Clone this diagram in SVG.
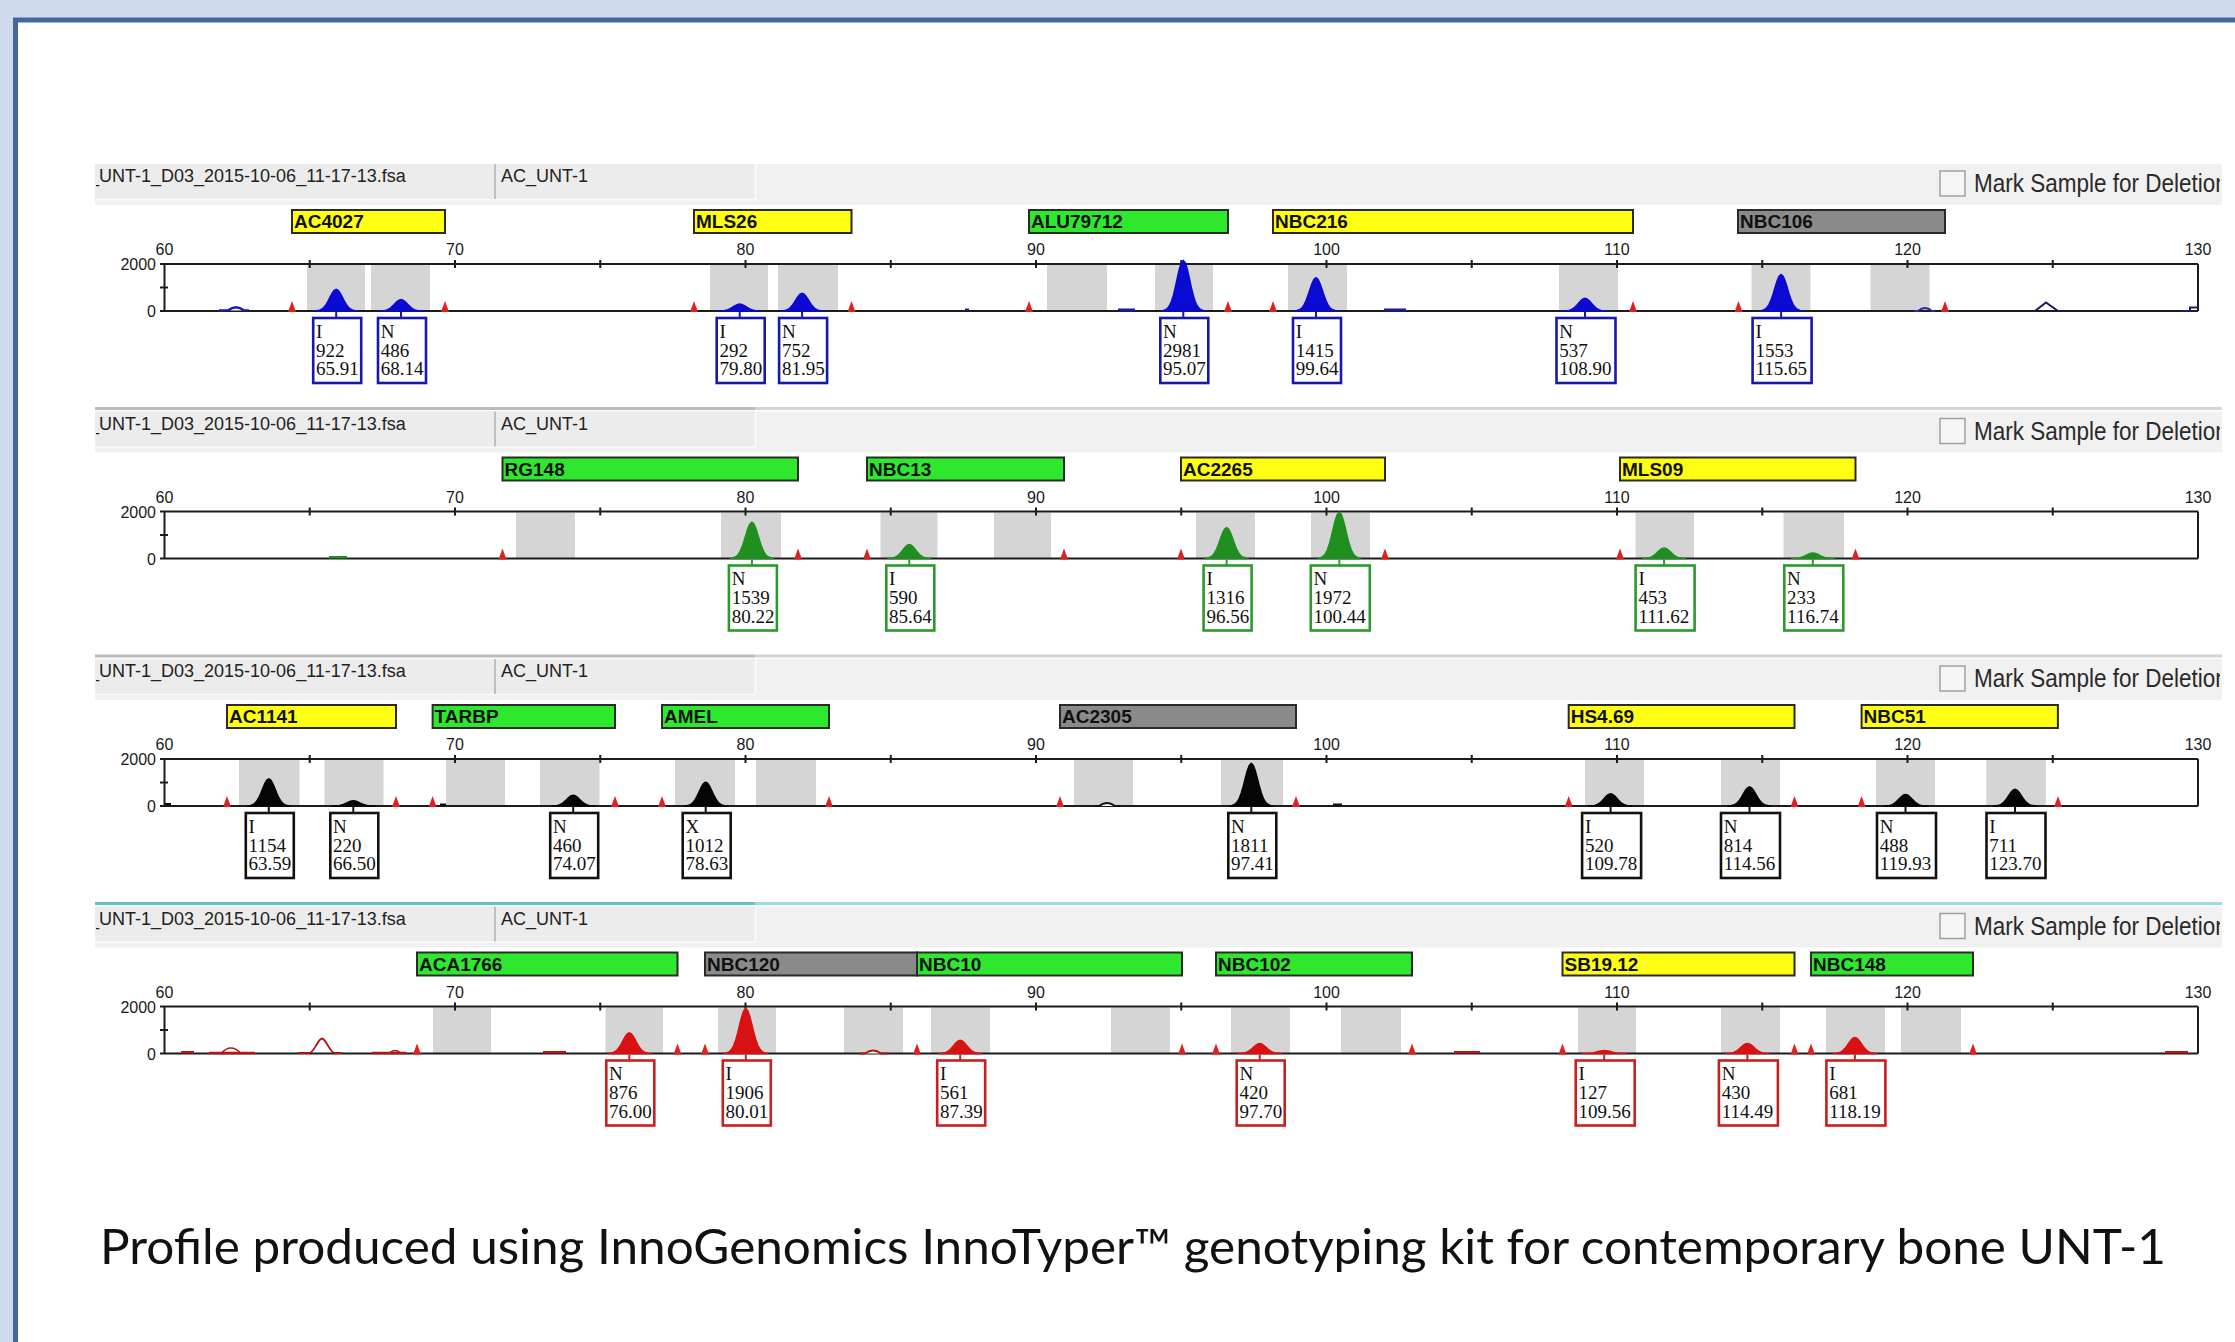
<svg xmlns="http://www.w3.org/2000/svg" xmlns:xlink="http://www.w3.org/1999/xlink" width="2235" height="1342" viewBox="0 0 2235 1342">
<style>
.ht{font-family:'Liberation Sans',Arial,sans-serif;font-size:18px;fill:#222}
.mk{font-family:'Liberation Sans',Arial,sans-serif;font-size:25px;fill:#2a2a2a}
.an{font-family:'Liberation Sans',Arial,sans-serif;font-size:16px;fill:#1a1a1a;text-anchor:middle}
.ay{font-family:'Liberation Sans',Arial,sans-serif;font-size:16px;fill:#1a1a1a;text-anchor:end}
.lb{stroke:#2a2a2a;stroke-width:2}
.ly{fill:#ffff14}.lg{fill:#2ee82e}.lgr{fill:#8a8a8a}
.lt{font-family:'Liberation Sans',Arial,sans-serif;font-weight:bold;font-size:19px;fill:#111}
.bin{fill:#d5d5d5}
.ax{stroke:#1c1c1c;stroke-width:2;fill:none}
.bx{fill:#fff;stroke-width:2.6}
.bt{font-family:'Liberation Serif','Times New Roman',serif;font-size:19px;fill:#111}
.sb{stroke:#1818aa}.sg{stroke:#2a9a2a}.sk{stroke:#111}.sr{stroke:#c82020}
.cn{stroke-width:2}
.pb{fill:#0a0ad2;stroke:#0a0ad2}.pg{fill:#1f8f1f;stroke:#1f8f1f}.pk{fill:#050505;stroke:#050505}.pr{fill:#d81212;stroke:#d81212}
.cap{font-family:Lato,'Open Sans','Liberation Sans',sans-serif;font-size:49px;fill:#111}
</style>
<defs>
<path id="pk" vector-effect="non-scaling-stroke" stroke-width="1.5" d="M-22,0 L-19,-0.014 L-16,-0.048 L-14,-0.098 L-12,-0.182 L-10,-0.306 L-8,-0.469 L-6,-0.653 L-4,-0.827 L-2,-0.954 L0,-1 L2,-0.954 L4,-0.827 L6,-0.653 L8,-0.469 L10,-0.306 L12,-0.182 L14,-0.098 L16,-0.048 L19,-0.014 L22,0 Z"/>
<path id="tri" d="M-4,1 L0,-10 L4,1 Z" fill="#e02020"/>
<path id="axes" class="ax" d="M160,264H2198M160,311H2198M164.5,264V311M2198,264V311M160,287.5H168M309.75,260V268M455,260V268M600.25,260V268M745.5,260V268M890.75,260V268M1036,260V268M1181.25,260V268M1326.5,260V268M1471.75,260V268M1617,260V268M1762.25,260V268M1907.5,260V268M2052.75,260V268"/>
<clipPath id="cpH" clipPathUnits="userSpaceOnUse"><rect x="96" y="-500" width="2124" height="2500"/></clipPath>
</defs>
<rect x="0" y="0" width="2235" height="1342" fill="#d0dcee"/>
<rect x="15.5" y="20" width="2300" height="1400" fill="#fff" stroke="#44679c" stroke-width="5"/>

<!-- PANEL 1 -->
<g id="panel1">
<rect x="95" y="164" width="2127" height="41" fill="#f1f1f1"/>
<rect x="95" y="164" width="660" height="35" fill="#ececec"/>
<path d="M95,199.5H755.5V164" stroke="#fbfbfb" stroke-width="1.5" fill="none"/>
<path d="M495,164V199" stroke="#b0b0b0" stroke-width="1.5"/>
<g clip-path="url(#cpH)">
<text class="ht" x="89" y="182">_UNT-1_D03_2015-10-06_11-17-13.fsa</text>
<text class="ht" x="501" y="182">AC_UNT-1</text>
<rect x="1940" y="171" width="25" height="25" fill="#f5f5f5" stroke="#a0a0a0" stroke-width="1.5"/>
<text class="mk" transform="translate(1974,192) scale(0.9,1)">Mark Sample for Deletion</text>
</g>
<g id="p1-loci">
<rect class="lb ly" x="292" y="210" width="153" height="23"/><text class="lt" x="294" y="228">AC4027</text>
<rect class="lb ly" x="694" y="210" width="157.5" height="23"/><text class="lt" x="696" y="228">MLS26</text>
<rect class="lb lg" x="1029" y="210" width="199" height="23"/><text class="lt" x="1031" y="228">ALU79712</text>
<rect class="lb ly" x="1273" y="210" width="360" height="23"/><text class="lt" x="1275" y="228">NBC216</text>
<rect class="lb lgr" x="1738" y="210" width="207" height="23"/><text class="lt" x="1740" y="228">NBC106</text>
</g>
<g>
<rect class="bin" x="307" y="265" width="58" height="46"/><rect class="bin" x="371" y="265" width="59" height="46"/>
<rect class="bin" x="710" y="265" width="58" height="46"/><rect class="bin" x="778" y="265" width="60" height="46"/>
<rect class="bin" x="1047" y="265" width="60" height="46"/><rect class="bin" x="1155" y="265" width="58" height="46"/>
<rect class="bin" x="1288" y="265" width="59" height="46"/><rect class="bin" x="1559" y="265" width="59" height="46"/>
<rect class="bin" x="1751.5" y="265" width="59" height="46"/><rect class="bin" x="1870.5" y="265" width="59" height="46"/>
</g>
<use href="#axes"/>
<text class="an" x="164.5" y="255">60</text><text class="an" x="455" y="255">70</text><text class="an" x="745.5" y="255">80</text><text class="an" x="1036" y="255">90</text><text class="an" x="1326.5" y="255">100</text><text class="an" x="1617" y="255">110</text><text class="an" x="1907.5" y="255">120</text><text class="an" x="2198" y="255">130</text>
<text class="ay" x="156" y="270">2000</text><text class="ay" x="156" y="317">0</text>
<g>
<path d="M219,310.5H228Q236,304 244,310.5H249" fill="#fff" stroke="#1a1aa0" stroke-width="2.5"/>
<rect x="965" y="308.5" width="4" height="2.5" fill="#1a1a80"/>
<rect x="1118" y="308.5" width="17" height="3" fill="#1a1aa0"/>
<rect x="1384" y="308.5" width="22" height="3" fill="#1a1aa0"/>
<path d="M1914,311H1918Q1925,305 1932,311H1935" fill="none" stroke="#2a2aa0" stroke-width="2"/>
<path d="M2031,311H2035L2046,302.5L2058,311H2064" fill="none" stroke="#1a1a5a" stroke-width="2"/>
<path d="M2181,311H2190V307.5H2198" fill="none" stroke="#1a1a80" stroke-width="2"/>
</g>
<g class="pb">
<use href="#pk" transform="translate(336.2,311) scale(1,21.7)"/>
<use href="#pk" transform="translate(401,311) scale(1,11.4)"/>
<use href="#pk" transform="translate(739.7,311) scale(1,6.9)"/>
<use href="#pk" transform="translate(802.1,311) scale(1,17.7)"/>
<use href="#pk" transform="translate(1183.3,311) scale(1,50.5)"/>
<use href="#pk" transform="translate(1316,311) scale(1,33.3)"/>
<use href="#pk" transform="translate(1585,311) scale(1,12.6)"/>
<use href="#pk" transform="translate(1781.1,311) scale(1,36.5)"/>
</g>
<g>
<use href="#tri" x="292" y="311"/><use href="#tri" x="445" y="311"/><use href="#tri" x="694" y="311"/><use href="#tri" x="851.5" y="311"/><use href="#tri" x="1029" y="311"/><use href="#tri" x="1228" y="311"/><use href="#tri" x="1273" y="311"/><use href="#tri" x="1633" y="311"/><use href="#tri" x="1738.5" y="311"/><use href="#tri" x="1945" y="311"/>
</g>
<g id="p1-b1"><rect class="bx sb" x="313.2" y="318" width="48" height="65"/><text class="bt" x="316" y="337.5">I</text><text class="bt" x="316" y="356.5">922</text><text class="bt" x="316" y="375">65.91</text></g>
<g id="p1-b2"><rect class="bx sb" x="378" y="318" width="48" height="65"/><text class="bt" x="380.8" y="337.5">N</text><text class="bt" x="380.8" y="356.5">486</text><text class="bt" x="380.8" y="375">68.14</text></g>
<g id="p1-b3"><rect class="bx sb" x="716.7" y="318" width="48" height="65"/><text class="bt" x="719.5" y="337.5">I</text><text class="bt" x="719.5" y="356.5">292</text><text class="bt" x="719.5" y="375">79.80</text></g>
<g id="p1-b4"><rect class="bx sb" x="779.1" y="318" width="48" height="65"/><text class="bt" x="781.9" y="337.5">N</text><text class="bt" x="781.9" y="356.5">752</text><text class="bt" x="781.9" y="375">81.95</text></g>
<g id="p1-b5"><rect class="bx sb" x="1160.3" y="318" width="48" height="65"/><text class="bt" x="1163.1" y="337.5">N</text><text class="bt" x="1163.1" y="356.5">2981</text><text class="bt" x="1163.1" y="375">95.07</text></g>
<g id="p1-b6"><rect class="bx sb" x="1293" y="318" width="48" height="65"/><text class="bt" x="1295.8" y="337.5">I</text><text class="bt" x="1295.8" y="356.5">1415</text><text class="bt" x="1295.8" y="375">99.64</text></g>
<g id="p1-b7"><rect class="bx sb" x="1556.5" y="318" width="59" height="65"/><text class="bt" x="1559.3" y="337.5">N</text><text class="bt" x="1559.3" y="356.5">537</text><text class="bt" x="1559.3" y="375">108.90</text></g>
<g id="p1-b8"><rect class="bx sb" x="1752.6" y="318" width="59" height="65"/><text class="bt" x="1755.4" y="337.5">I</text><text class="bt" x="1755.4" y="356.5">1553</text><text class="bt" x="1755.4" y="375">115.65</text></g>
</g>

<!-- PANEL 2 -->
<g id="panel2" transform="translate(0,247.5)">
<path d="M95,161H755" stroke="#bcbcbc" stroke-width="3"/><path d="M755,161H2222" stroke="#d4d4d4" stroke-width="3"/>
<rect x="95" y="164" width="2127" height="41" fill="#f1f1f1"/>
<rect x="95" y="164" width="660" height="35" fill="#ececec"/>
<path d="M95,199.5H755.5V164" stroke="#fbfbfb" stroke-width="1.5" fill="none"/>
<path d="M495,164V199" stroke="#b0b0b0" stroke-width="1.5"/>
<g clip-path="url(#cpH)">
<text class="ht" x="89" y="182">_UNT-1_D03_2015-10-06_11-17-13.fsa</text>
<text class="ht" x="501" y="182">AC_UNT-1</text>
<rect x="1940" y="171" width="25" height="25" fill="#f5f5f5" stroke="#a0a0a0" stroke-width="1.5"/>
<text class="mk" transform="translate(1974,192) scale(0.9,1)">Mark Sample for Deletion</text>
</g>
<g id="p2-loci">
<rect class="lb lg" x="502.5" y="210" width="295.5" height="23"/><text class="lt" x="504.5" y="228">RG148</text>
<rect class="lb lg" x="867" y="210" width="197" height="23"/><text class="lt" x="869" y="228">NBC13</text>
<rect class="lb ly" x="1181" y="210" width="204" height="23"/><text class="lt" x="1183" y="228">AC2265</text>
<rect class="lb ly" x="1620" y="210" width="235.5" height="23"/><text class="lt" x="1622" y="228">MLS09</text>
</g>
<g>
<rect class="bin" x="516" y="265" width="59" height="46"/><rect class="bin" x="721" y="265" width="60" height="46"/>
<rect class="bin" x="880.5" y="265" width="57" height="46"/><rect class="bin" x="994" y="265" width="57" height="46"/>
<rect class="bin" x="1196" y="265" width="59" height="46"/><rect class="bin" x="1311" y="265" width="59" height="46"/>
<rect class="bin" x="1635.5" y="265" width="58.5" height="46"/><rect class="bin" x="1783.5" y="265" width="60.5" height="46"/>
</g>
<use href="#axes"/>
<text class="an" x="164.5" y="255">60</text><text class="an" x="455" y="255">70</text><text class="an" x="745.5" y="255">80</text><text class="an" x="1036" y="255">90</text><text class="an" x="1326.5" y="255">100</text><text class="an" x="1617" y="255">110</text><text class="an" x="1907.5" y="255">120</text><text class="an" x="2198" y="255">130</text>
<text class="ay" x="156" y="270">2000</text><text class="ay" x="156" y="317">0</text>
<rect x="329" y="308.5" width="18" height="2.5" fill="#1f8f1f"/>
<g class="pg">
<use href="#pk" transform="translate(751.9,311) scale(1,36.2)"/>
<use href="#pk" transform="translate(909.3,311) scale(1,13.9)"/>
<use href="#pk" transform="translate(1226.6,311) scale(1,30.9)"/>
<use href="#pk" transform="translate(1339.3,311) scale(1,46.3)"/>
<use href="#pk" transform="translate(1664.1,311) scale(1,10.6)"/>
<use href="#pk" transform="translate(1812.8,311) scale(1,5.5)"/>
</g>
<g>
<use href="#tri" x="502.5" y="311"/><use href="#tri" x="798" y="311"/><use href="#tri" x="867" y="311"/><use href="#tri" x="1064" y="311"/><use href="#tri" x="1181" y="311"/><use href="#tri" x="1385" y="311"/><use href="#tri" x="1620" y="311"/><use href="#tri" x="1855.5" y="311"/>
</g>
<g id="p2-b1"><rect class="bx sg" x="728.9" y="318" width="48" height="65"/><text class="bt" x="731.7" y="337.5">N</text><text class="bt" x="731.7" y="356.5">1539</text><text class="bt" x="731.7" y="375">80.22</text></g>
<g id="p2-b2"><rect class="bx sg" x="886.3" y="318" width="48" height="65"/><text class="bt" x="889.1" y="337.5">I</text><text class="bt" x="889.1" y="356.5">590</text><text class="bt" x="889.1" y="375">85.64</text></g>
<g id="p2-b3"><rect class="bx sg" x="1203.6" y="318" width="48" height="65"/><text class="bt" x="1206.4" y="337.5">I</text><text class="bt" x="1206.4" y="356.5">1316</text><text class="bt" x="1206.4" y="375">96.56</text></g>
<g id="p2-b4"><rect class="bx sg" x="1310.8" y="318" width="59" height="65"/><text class="bt" x="1313.6" y="337.5">N</text><text class="bt" x="1313.6" y="356.5">1972</text><text class="bt" x="1313.6" y="375">100.44</text></g>
<g id="p2-b5"><rect class="bx sg" x="1635.6" y="318" width="59" height="65"/><text class="bt" x="1638.4" y="337.5">I</text><text class="bt" x="1638.4" y="356.5">453</text><text class="bt" x="1638.4" y="375">111.62</text></g>
<g id="p2-b6"><rect class="bx sg" x="1784.3" y="318" width="59" height="65"/><text class="bt" x="1787.1" y="337.5">N</text><text class="bt" x="1787.1" y="356.5">233</text><text class="bt" x="1787.1" y="375">116.74</text></g>
</g>

<!-- PANEL 3 -->
<g id="panel3" transform="translate(0,495)">
<path d="M95,161H755" stroke="#bcbcbc" stroke-width="3"/><path d="M755,161H2222" stroke="#d4d4d4" stroke-width="3"/>
<rect x="95" y="164" width="2127" height="41" fill="#f1f1f1"/>
<rect x="95" y="164" width="660" height="35" fill="#ececec"/>
<path d="M95,199.5H755.5V164" stroke="#fbfbfb" stroke-width="1.5" fill="none"/>
<path d="M495,164V199" stroke="#b0b0b0" stroke-width="1.5"/>
<g clip-path="url(#cpH)">
<text class="ht" x="89" y="182">_UNT-1_D03_2015-10-06_11-17-13.fsa</text>
<text class="ht" x="501" y="182">AC_UNT-1</text>
<rect x="1940" y="171" width="25" height="25" fill="#f5f5f5" stroke="#a0a0a0" stroke-width="1.5"/>
<text class="mk" transform="translate(1974,192) scale(0.9,1)">Mark Sample for Deletion</text>
</g>
<g id="p3-loci">
<rect class="lb ly" x="227" y="210" width="169" height="23"/><text class="lt" x="229" y="228">AC1141</text>
<rect class="lb lg" x="432.6" y="210" width="182.4" height="23"/><text class="lt" x="434.6" y="228">TARBP</text>
<rect class="lb lg" x="662" y="210" width="167" height="23"/><text class="lt" x="664" y="228">AMEL</text>
<rect class="lb lgr" x="1060" y="210" width="236" height="23"/><text class="lt" x="1062" y="228">AC2305</text>
<rect class="lb ly" x="1568.7" y="210" width="225.8" height="23"/><text class="lt" x="1570.7" y="228">HS4.69</text>
<rect class="lb ly" x="1861.6" y="210" width="196.3" height="23"/><text class="lt" x="1863.6" y="228">NBC51</text>
</g>
<g>
<rect class="bin" x="239" y="265" width="60.5" height="46"/><rect class="bin" x="324.5" y="265" width="59" height="46"/>
<rect class="bin" x="446" y="265" width="59" height="46"/><rect class="bin" x="540" y="265" width="59.5" height="46"/>
<rect class="bin" x="675" y="265" width="60" height="46"/><rect class="bin" x="756" y="265" width="60" height="46"/>
<rect class="bin" x="1074" y="265" width="59" height="46"/><rect class="bin" x="1221" y="265" width="62" height="46"/>
<rect class="bin" x="1585" y="265" width="59" height="46"/><rect class="bin" x="1721" y="265" width="59" height="46"/>
<rect class="bin" x="1876" y="265" width="59" height="46"/><rect class="bin" x="1986.3" y="265" width="59.5" height="46"/>
</g>
<use href="#axes"/>
<text class="an" x="164.5" y="255">60</text><text class="an" x="455" y="255">70</text><text class="an" x="745.5" y="255">80</text><text class="an" x="1036" y="255">90</text><text class="an" x="1326.5" y="255">100</text><text class="an" x="1617" y="255">110</text><text class="an" x="1907.5" y="255">120</text><text class="an" x="2198" y="255">130</text>
<text class="ay" x="156" y="270">2000</text><text class="ay" x="156" y="317">0</text>
<g>
<rect x="165" y="308" width="6" height="3" fill="#111"/>
<rect x="440" y="308.5" width="6" height="2.5" fill="#111"/>
<path d="M1094,311H1099Q1107,305 1115,311H1120" fill="#fff" stroke="#111" stroke-width="2"/>
<rect x="1333" y="308.5" width="9" height="3" fill="#111"/>
</g>
<g class="pk">
<use href="#pk" transform="translate(268.8,311) scale(1,27.1)"/>
<use href="#pk" transform="translate(353.3,311) scale(1,5.2)"/>
<use href="#pk" transform="translate(573.2,311) scale(1,10.8)"/>
<use href="#pk" transform="translate(705.7,311) scale(1,23.8)"/>
<use href="#pk" transform="translate(1251.3,311) scale(1,42.6)"/>
<use href="#pk" transform="translate(1610.6,311) scale(1,12.2)"/>
<use href="#pk" transform="translate(1749.5,311) scale(1,19.1)"/>
<use href="#pk" transform="translate(1905.5,311) scale(1,11.5)"/>
<use href="#pk" transform="translate(2015,311) scale(1,16.7)"/>
</g>
<g>
<use href="#tri" x="227" y="311"/><use href="#tri" x="396" y="311"/><use href="#tri" x="432.6" y="311"/><use href="#tri" x="615" y="311"/><use href="#tri" x="662" y="311"/><use href="#tri" x="829" y="311"/><use href="#tri" x="1060" y="311"/><use href="#tri" x="1296" y="311"/><use href="#tri" x="1568.7" y="311"/><use href="#tri" x="1794.5" y="311"/><use href="#tri" x="1861.6" y="311"/><use href="#tri" x="2058" y="311"/>
</g>
<g id="p3-b1"><rect class="bx sk" x="245.8" y="318" width="48" height="65"/><text class="bt" x="248.6" y="337.5">I</text><text class="bt" x="248.6" y="356.5">1154</text><text class="bt" x="248.6" y="375">63.59</text></g>
<g id="p3-b2"><rect class="bx sk" x="330.3" y="318" width="48" height="65"/><text class="bt" x="333.1" y="337.5">N</text><text class="bt" x="333.1" y="356.5">220</text><text class="bt" x="333.1" y="375">66.50</text></g>
<g id="p3-b3"><rect class="bx sk" x="550.2" y="318" width="48" height="65"/><text class="bt" x="553" y="337.5">N</text><text class="bt" x="553" y="356.5">460</text><text class="bt" x="553" y="375">74.07</text></g>
<g id="p3-b4"><rect class="bx sk" x="682.7" y="318" width="48" height="65"/><text class="bt" x="685.5" y="337.5">X</text><text class="bt" x="685.5" y="356.5">1012</text><text class="bt" x="685.5" y="375">78.63</text></g>
<g id="p3-b5"><rect class="bx sk" x="1228.3" y="318" width="48" height="65"/><text class="bt" x="1231.1" y="337.5">N</text><text class="bt" x="1231.1" y="356.5">1811</text><text class="bt" x="1231.1" y="375">97.41</text></g>
<g id="p3-b6"><rect class="bx sk" x="1582.1" y="318" width="59" height="65"/><text class="bt" x="1584.9" y="337.5">I</text><text class="bt" x="1584.9" y="356.5">520</text><text class="bt" x="1584.9" y="375">109.78</text></g>
<g id="p3-b7"><rect class="bx sk" x="1721" y="318" width="59" height="65"/><text class="bt" x="1723.8" y="337.5">N</text><text class="bt" x="1723.8" y="356.5">814</text><text class="bt" x="1723.8" y="375">114.56</text></g>
<g id="p3-b8"><rect class="bx sk" x="1877" y="318" width="59" height="65"/><text class="bt" x="1879.8" y="337.5">N</text><text class="bt" x="1879.8" y="356.5">488</text><text class="bt" x="1879.8" y="375">119.93</text></g>
<g id="p3-b9"><rect class="bx sk" x="1986.5" y="318" width="59" height="65"/><text class="bt" x="1989.3" y="337.5">I</text><text class="bt" x="1989.3" y="356.5">711</text><text class="bt" x="1989.3" y="375">123.70</text></g>
</g>

<!-- PANEL 4 -->
<g id="panel4" transform="translate(0,742.5)">
<path d="M95,161H755" stroke="#62c4c8" stroke-width="3"/><path d="M755,161H2222" stroke="#9cdcdf" stroke-width="3"/>
<rect x="95" y="164" width="2127" height="41" fill="#f1f1f1"/>
<rect x="95" y="164" width="660" height="35" fill="#ececec"/>
<path d="M95,199.5H755.5V164" stroke="#fbfbfb" stroke-width="1.5" fill="none"/>
<path d="M495,164V199" stroke="#b0b0b0" stroke-width="1.5"/>
<g clip-path="url(#cpH)">
<text class="ht" x="89" y="182">_UNT-1_D03_2015-10-06_11-17-13.fsa</text>
<text class="ht" x="501" y="182">AC_UNT-1</text>
<rect x="1940" y="171" width="25" height="25" fill="#f5f5f5" stroke="#a0a0a0" stroke-width="1.5"/>
<text class="mk" transform="translate(1974,192) scale(0.9,1)">Mark Sample for Deletion</text>
</g>
<g id="p4-loci">
<rect class="lb lg" x="417" y="210" width="260.5" height="23"/><text class="lt" x="419" y="228">ACA1766</text>
<rect class="lb lgr" x="705" y="210" width="212" height="23"/><text class="lt" x="707" y="228">NBC120</text>
<rect class="lb lg" x="917" y="210" width="265" height="23"/><text class="lt" x="919" y="228">NBC10</text>
<rect class="lb lg" x="1216" y="210" width="196" height="23"/><text class="lt" x="1218" y="228">NBC102</text>
<rect class="lb ly" x="1562.5" y="210" width="232" height="23"/><text class="lt" x="1564.5" y="228">SB19.12</text>
<rect class="lb lg" x="1811" y="210" width="162" height="23"/><text class="lt" x="1813" y="228">NBC148</text>
</g>
<g>
<rect class="bin" x="433" y="265" width="58" height="46"/><rect class="bin" x="605.5" y="265" width="57.5" height="46"/>
<rect class="bin" x="718" y="265" width="58" height="46"/><rect class="bin" x="844" y="265" width="59" height="46"/>
<rect class="bin" x="931" y="265" width="59" height="46"/><rect class="bin" x="1111" y="265" width="59" height="46"/>
<rect class="bin" x="1231" y="265" width="59" height="46"/><rect class="bin" x="1341" y="265" width="60" height="46"/>
<rect class="bin" x="1578" y="265" width="58" height="46"/><rect class="bin" x="1721" y="265" width="59" height="46"/>
<rect class="bin" x="1826" y="265" width="59" height="46"/><rect class="bin" x="1901" y="265" width="60" height="46"/>
</g>
<use href="#axes"/>
<text class="an" x="164.5" y="255">60</text><text class="an" x="455" y="255">70</text><text class="an" x="745.5" y="255">80</text><text class="an" x="1036" y="255">90</text><text class="an" x="1326.5" y="255">100</text><text class="an" x="1617" y="255">110</text><text class="an" x="1907.5" y="255">120</text><text class="an" x="2198" y="255">130</text>
<text class="ay" x="156" y="270">2000</text><text class="ay" x="156" y="317">0</text>
<g>
<rect x="181" y="308.5" width="13" height="2.5" fill="#b81414"/>
<path d="M209,310.5H255" stroke="#b81414" stroke-width="2.5"/>
<path d="M221,311Q231,300 241,311" fill="none" stroke="#b81414" stroke-width="1.5"/>
<path d="M298,310.5H309C314,311 318,296 322,296C326,296 330,311 335,310.5H342" fill="none" stroke="#b01010" stroke-width="1.8"/>
<path d="M372,310.5H406" stroke="#b81414" stroke-width="2.5"/>
<path d="M390,310Q395,306 400,310" fill="none" stroke="#b81414" stroke-width="1.5"/>
<rect x="543" y="308.5" width="23" height="2.5" fill="#b81414"/>
<path d="M860,311H865Q873,305 881,311H887" fill="#fff" stroke="#b81414" stroke-width="2"/>
<rect x="1454" y="308.5" width="26" height="2.5" fill="#b81414"/>
<rect x="2165" y="308.5" width="23" height="2.5" fill="#b81414"/>
</g>
<g class="pr">
<use href="#pk" transform="translate(629.3,311) scale(1,20.6)"/>
<use href="#pk" transform="translate(745.8,311) scale(1,44.8)"/>
<use href="#pk" transform="translate(960.2,311) scale(1,13.2)"/>
<use href="#pk" transform="translate(1259.7,311) scale(1,9.9)"/>
<use href="#pk" transform="translate(1604.2,311) scale(1,3)"/>
<use href="#pk" transform="translate(1747.4,311) scale(1,10.1)"/>
<use href="#pk" transform="translate(1854.9,311) scale(1,16)"/>
</g>
<g>
<use href="#tri" x="417" y="311"/><use href="#tri" x="677.5" y="311"/><use href="#tri" x="705" y="311"/><use href="#tri" x="917" y="311"/><use href="#tri" x="1182" y="311"/><use href="#tri" x="1216" y="311"/><use href="#tri" x="1412" y="311"/><use href="#tri" x="1562.5" y="311"/><use href="#tri" x="1794.5" y="311"/><use href="#tri" x="1811" y="311"/><use href="#tri" x="1973" y="311"/>
</g>
<g id="p4-b1"><rect class="bx sr" x="606.3" y="318" width="48" height="65"/><text class="bt" x="609.1" y="337.5">N</text><text class="bt" x="609.1" y="356.5">876</text><text class="bt" x="609.1" y="375">76.00</text></g>
<g id="p4-b2"><rect class="bx sr" x="722.8" y="318" width="48" height="65"/><text class="bt" x="725.6" y="337.5">I</text><text class="bt" x="725.6" y="356.5">1906</text><text class="bt" x="725.6" y="375">80.01</text></g>
<g id="p4-b3"><rect class="bx sr" x="937.2" y="318" width="48" height="65"/><text class="bt" x="940" y="337.5">I</text><text class="bt" x="940" y="356.5">561</text><text class="bt" x="940" y="375">87.39</text></g>
<g id="p4-b4"><rect class="bx sr" x="1236.7" y="318" width="48" height="65"/><text class="bt" x="1239.5" y="337.5">N</text><text class="bt" x="1239.5" y="356.5">420</text><text class="bt" x="1239.5" y="375">97.70</text></g>
<g id="p4-b5"><rect class="bx sr" x="1575.7" y="318" width="59" height="65"/><text class="bt" x="1578.5" y="337.5">I</text><text class="bt" x="1578.5" y="356.5">127</text><text class="bt" x="1578.5" y="375">109.56</text></g>
<g id="p4-b6"><rect class="bx sr" x="1718.9" y="318" width="59" height="65"/><text class="bt" x="1721.7" y="337.5">N</text><text class="bt" x="1721.7" y="356.5">430</text><text class="bt" x="1721.7" y="375">114.49</text></g>
<g id="p4-b7"><rect class="bx sr" x="1826.4" y="318" width="59" height="65"/><text class="bt" x="1829.2" y="337.5">I</text><text class="bt" x="1829.2" y="356.5">681</text><text class="bt" x="1829.2" y="375">118.19</text></g>
</g>

<!-- connectors: peak to label box -->
<g id="connectors" class="cn">
<g class="sb"><path d="M336.2,312V318M401,312V318M739.7,312V318M802.1,312V318M1183.3,312V318M1316,312V318M1585,312V318M1781.1,312V318"/></g>
<g class="sg" transform="translate(0,247.5)"><path d="M751.9,312V318M909.3,312V318M1226.6,312V318M1339.3,312V318M1664.1,312V318M1812.8,312V318"/></g>
<g class="sk" transform="translate(0,495)"><path d="M268.8,312V318M353.3,312V318M573.2,312V318M705.7,312V318M1251.3,312V318M1610.6,312V318M1749.5,312V318M1905.5,312V318M2015,312V318"/></g>
<g class="sr" transform="translate(0,742.5)"><path d="M629.3,312V318M745.8,312V318M960.2,312V318M1259.7,312V318M1604.2,312V318M1747.4,312V318M1854.9,312V318"/></g>
</g>

<text class="cap" x="100" y="1264" textLength="2066" lengthAdjust="spacingAndGlyphs">Profile produced using InnoGenomics InnoTyper™ genotyping kit for contemporary bone UNT-1</text>
</svg>
